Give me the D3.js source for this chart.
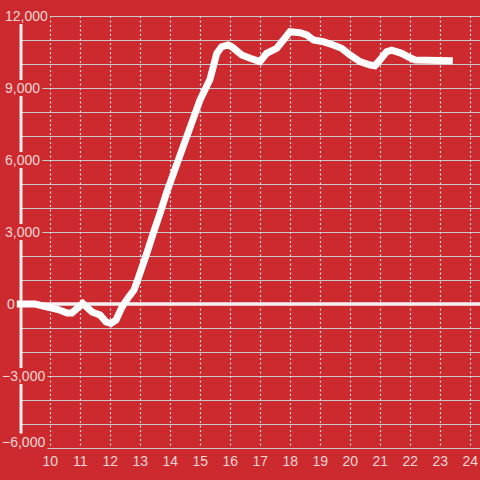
<!DOCTYPE html>
<html><head><meta charset="utf-8">
<script src="https://cdn.jsdelivr.net/npm/d3@7"></script>
<style>
html,body{margin:0;padding:0;background:#cc2a2f;}
svg{display:block;}
text{font-family:"Liberation Sans",Arial,sans-serif;}
</style></head>
<body>
<script>
const hours = [9.0,9.49,10.26,10.56,10.72,11.08,11.39,11.66,11.86,12.02,12.19,12.39,12.59,12.79,12.99,13.22,13.43,13.66,13.88,14.09,14.32,14.66,14.99,15.32,15.55,15.71,15.93,16.05,16.38,16.66,16.99,17.21,17.55,17.99,18.32,18.55,18.77,19.1,19.43,19.71,19.99,20.32,20.66,20.82,20.99,21.21,21.38,21.71,21.99,22.16,23.3];
const values = [0,0,-230,-375,-375,20,-330,-460,-750,-810,-670,-125,250,580,1290,2125,2945,3790,4650,5380,6180,7360,8500,9350,10445,10720,10790,10720,10375,10240,10100,10445,10655,11345,11305,11210,11000,10930,10790,10655,10375,10100,9960,9930,10170,10510,10580,10445,10260,10170,10140];
const xTicks = [10,11,12,13,14,15,16,17,18,19,20,21,22,23,24];
const yTicks = [-6000,-3000,0,3000,6000,9000,12000];
const yGrid = d3.range(-6000,12001,1000);

const W=480,H=480;
const svg=d3.select("body").append("svg").attr("width",W).attr("height",H);
svg.append("rect").attr("width",W).attr("height",H).attr("fill","#cc2a2f");

const x=d3.scaleLinear().domain([10,24]).range([50.3,470.3]);
const y=d3.scaleLinear().domain([-6000,12000]).range([448,16]);

// horizontal gridlines
svg.append("g").selectAll("line").data(yGrid.filter(v=>v!==0)).join("line")
  .attr("x1",21).attr("x2",W).attr("y1",d=>Math.round(y(d))+0.5).attr("y2",d=>Math.round(y(d))+0.5)
  .attr("stroke","#c9c9c9").attr("stroke-width",1.2);
// vertical dashed
svg.append("g").selectAll("line").data(xTicks).join("line")
  .attr("x1",d=>Math.round(x(d))+0.5).attr("x2",d=>Math.round(x(d))+0.5)
  .attr("y1",y(12000)).attr("y2",y(-6000))
  .attr("stroke","#dddddd").attr("stroke-width",1.2).attr("stroke-dasharray","2,2.5");
// y axis line
svg.append("line").attr("x1",21).attr("x2",21).attr("y1",16).attr("y2",448)
  .attr("stroke","#eeeeee").attr("stroke-width",3);
// zero line
svg.append("line").attr("x1",21).attr("x2",W).attr("y1",y(0)).attr("y2",y(0))
  .attr("stroke","#f2f2f2").attr("stroke-width",3.5);

// x labels
svg.append("g").selectAll("text").data(xTicks).join("text")
  .attr("x",d=>x(d)).attr("y",466).attr("text-anchor","middle")
  .attr("font-size",14).attr("fill","#f4d6d6").text(d=>d);

// y labels with background
const fmt=d3.format(",");
const yl=svg.append("g").selectAll("g").data(yTicks).join("g");
yl.append("rect").attr("fill","#cc2a2f");
yl.append("text").attr("x",d=>d<0?2:(d===0?7:5)).attr("y",d=>Math.min(y(d),441.5)).attr("dy","0.36em")
  .attr("font-size",14).attr("fill","#f4d6d6").text(d=>fmt(d));
yl.each(function(){
  const g=d3.select(this);const b=g.select("text").node().getBBox();
  g.select("rect").attr("x",b.x-1).attr("y",b.y).attr("width",b.width+3).attr("height",b.height);
});

// data line
const line=d3.line().x(d=>x(d[0])).y(d=>y(d[1]));
svg.append("path").datum(hours.map((h,i)=>[h,values[i]]))
  .attr("d",line).attr("fill","none").attr("stroke","#ffffff")
  .attr("stroke-width",7).attr("stroke-linecap","square").attr("stroke-linejoin","miter");
</script>
</body></html>
